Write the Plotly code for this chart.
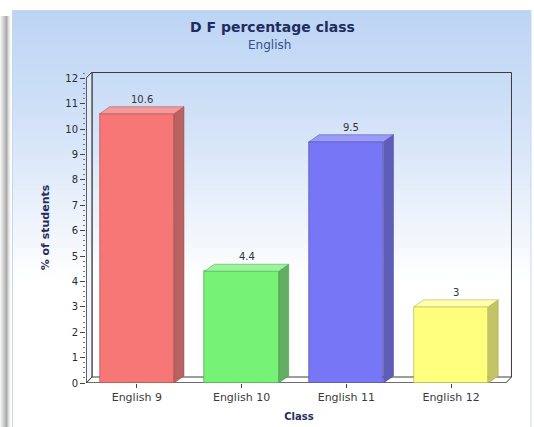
import plotly.graph_objects as go

# ---- data ----
categories = ["English 9", "English 10", "English 11", "English 12"]
values = [10.6, 4.4, 9.5, 3]
labels = ["10.6", "4.4", "9.5", "3"]
front_colors = ["#f77676", "#76f276", "#7676f6", "#ffff7e"]
side_colors = ["#b86262", "#62ae62", "#5e5eb8", "#c4c466"]
top_colors = ["#f49a9a", "#9af59a", "#9a9af8", "#ffffb0"]
edge_colors = ["#a04848", "#489848", "#4848a0", "#a8a848"]

FONT = "DejaVu Sans, Verdana, sans-serif"

W, H = 534, 427
L, R, T, B = 86, 22, 72, 44
PW, PH = W - L - R, H - T - B
PX_PER_CAT = 104.75
PX_PER_UNIT = 25.4
X0 = -0.485
X1 = X0 + PW / PX_PER_CAT
Y1 = PH / PX_PER_UNIT

BAR_W = 0.71
BDX = 10 / PX_PER_CAT
BDY = 7 / PX_PER_UNIT
WDX = 6 / PX_PER_CAT
WDY = 6 / PX_PER_UNIT


def xp(px):
    return (px - L) / PW


def yp(py):
    return (H - B - py) / PH


def hexmix(c1, c2, t):
    a = [int(c1[i:i + 2], 16) for i in (1, 3, 5)]
    b = [int(c2[i:i + 2], 16) for i in (1, 3, 5)]
    return "#%02x%02x%02x" % tuple(round(a[k] + (b[k] - a[k]) * t) for k in range(3))


shapes = []
# left shadow band
for i, c in enumerate(["#f4f4f4", "#e2e2e2", "#d0d0d0", "#c2c2c2", "#b6b6b6", "#adadad", "#b8b8b8", "#dcdcdc", "#f6f6f6", "#ffffff"]):
    shapes.append(dict(type="rect", xref="paper", yref="paper", x0=xp(i * 1.2), x1=xp(i * 1.2 + 1.3),
                       y0=yp(H), y1=yp(16), fillcolor=c, line_width=0, layer="below"))
# panel gradient
stops = [(10, "#bcd4f4"), (120, "#d2e2f8"), (220, "#eef4fc"), (280, "#ffffff"), (H, "#ffffff")]
step = 4
y = 10
while y < H:
    col = "#ffffff"
    for k in range(len(stops) - 1):
        if stops[k][0] <= y < stops[k + 1][0]:
            t = (y - stops[k][0]) / (stops[k + 1][0] - stops[k][0])
            col = hexmix(stops[k][1], stops[k + 1][1], t)
            break
    shapes.append(dict(type="rect", xref="paper", yref="paper", x0=xp(12), x1=xp(531),
                       y0=yp(min(y + step + 0.5, H)), y1=yp(y), fillcolor=col, line_width=0, layer="below"))
    y += step
# panel outline (light)
shapes.append(dict(type="rect", xref="paper", yref="paper", x0=xp(12.5), x1=xp(531), y0=yp(H + 2), y1=yp(10.5),
                   fillcolor="rgba(0,0,0,0)", line=dict(color="#c6d6ee", width=1), layer="below"))

wall_line = dict(color="#3c3c3c", width=1)
# back wall
shapes.append(dict(type="path", xref="x", yref="y",
                   path=f"M {X0+WDX},{WDY} L {X0+WDX},{Y1-0.02} L {X1-0.005},{Y1-0.02} L {X1-0.005},{WDY}",
                   line=wall_line, layer="below"))
# floor
shapes.append(dict(type="path", xref="x", yref="y",
                   path=f"M {X0},0.01 L {X1-WDX},0.01 L {X1-0.005},{WDY} L {X0+WDX},{WDY} Z",
                   fillcolor="#ffffff", line=wall_line, layer="below"))
# left wall
shapes.append(dict(type="path", xref="x", yref="y",
                   path=f"M {X0+0.003},0 L {X0+0.003},{Y1-WDY} L {X0+WDX},{Y1} L {X0+WDX},{WDY} Z",
                   fillcolor="rgba(235,242,252,0.6)", line=wall_line, layer="below"))

annotations = []
for i, v in enumerate(values):
    xl = i - BAR_W / 2
    xr = i + BAR_W / 2
    # side face
    shapes.append(dict(type="path", xref="x", yref="y",
                       path=f"M {xr},0 L {xr+BDX},{BDY} L {xr+BDX},{v+BDY} L {xr},{v} Z",
                       fillcolor=side_colors[i], line=dict(color=edge_colors[i], width=0.5), layer="above"))
    # top face
    shapes.append(dict(type="path", xref="x", yref="y",
                       path=f"M {xl},{v} L {xl+BDX},{v+BDY} L {xr+BDX},{v+BDY} L {xr},{v} Z",
                       fillcolor=top_colors[i], line=dict(color=edge_colors[i], width=0.5), layer="above"))
    annotations.append(dict(x=i + BDX / 2, y=v + BDY, xref="x", yref="y", text=labels[i], showarrow=False,
                            yanchor="bottom", yshift=0, font=dict(size=10, color="#333333", family=FONT)))

# titles
annotations.append(dict(x=xp(272), y=yp(27), xref="paper", yref="paper", text="<b>D F percentage class</b>",
                        showarrow=False, xanchor="center", yanchor="middle",
                        font=dict(size=14, color="#1f2d5e", family=FONT)))
annotations.append(dict(x=xp(269), y=yp(45), xref="paper", yref="paper", text="English",
                        showarrow=False, xanchor="center", yanchor="middle",
                        font=dict(size=12, color="#34508e", family=FONT)))

fig = go.Figure()
fig.add_trace(go.Bar(x=categories, y=values, width=BAR_W,
                     marker=dict(color=front_colors, line=dict(color=edge_colors, width=0.6)),
                     hoverinfo="x+y", showlegend=False))

fig.update_layout(
    width=W, height=H,
    margin=dict(l=L, r=R, t=T, b=B, pad=0, autoexpand=False),
    paper_bgcolor="#ffffff", plot_bgcolor="rgba(0,0,0,0)",
    shapes=shapes, annotations=annotations,
    font=dict(family=FONT, size=10, color="#333333"),
    bargap=0,
    xaxis=dict(type="category", range=[X0, X1], showgrid=False, zeroline=False, showline=False,
               automargin=False,
               ticks="outside", ticklen=4, tickcolor="#444444",
               tickfont=dict(size=11, color="#3a3a3a", family=FONT),
               title=dict(text="<b>Class</b>", standoff=9, font=dict(size=10, color="#1f2d5e", family=FONT))),
    yaxis=dict(range=[0, Y1], dtick=1, tick0=0, showgrid=False, zeroline=False, showline=False,
               automargin=False,
               ticks="outside", ticklen=5, tickcolor="#444444",
               tickfont=dict(size=10, color="#2a2a2a", family=FONT),
               minor=dict(dtick=0.2, ticks="outside", ticklen=2, tickcolor="#777777", showgrid=False),
               title=dict(text="<b>% of students</b>", standoff=13, font=dict(size=11, color="#1f2d5e", family=FONT))),
)

fig.write_html("out.html", config={"displayModeBar": False},
               post_script="document.body.style.margin='0';document.body.style.overflow='hidden';")
